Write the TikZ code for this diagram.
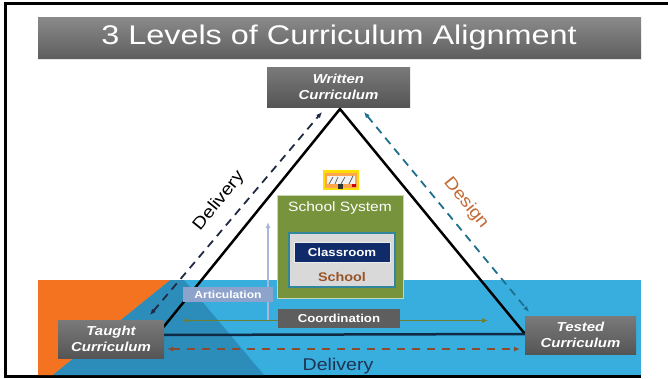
\documentclass[tikz,border=0pt]{standalone}
\usepackage{fontspec}
\setmainfont{Liberation Sans}[FakeStretch=1.15]
\newfontfamily\titlefont{Liberation Sans}[FakeStretch=1.2]
\usetikzlibrary{arrows.meta,calc}

\definecolor{barTop}{HTML}{8A8A8A}
\definecolor{barBot}{HTML}{5E5E5E}
\definecolor{boxTop}{HTML}{7A7A7A}
\definecolor{boxBot}{HTML}{555555}
\definecolor{skyBlue}{HTML}{38AEDF}
\definecolor{deepTeal}{HTML}{2D8DBA}
\definecolor{flame}{HTML}{F47321}
\definecolor{navyLine}{HTML}{0F2A45}
\definecolor{inkNavy}{HTML}{1F2B45}
\definecolor{tealDash}{HTML}{1F6F8F}
\definecolor{rustDash}{HTML}{8C4A2F}
\definecolor{olive}{HTML}{6E7F32}
\definecolor{lavender}{HTML}{A9B8D8}
\definecolor{artFill}{HTML}{8EA3CC}
\definecolor{coordFill}{HTML}{5E5E5E}
\definecolor{sysGreen}{HTML}{77933C}
\definecolor{sysEdge}{HTML}{C9D7B0}
\definecolor{paleGray}{HTML}{D9D9D9}
\definecolor{tealEdge}{HTML}{31859C}
\definecolor{classNavy}{HTML}{102B6A}
\definecolor{schoolBrown}{HTML}{98542A}
\definecolor{designRust}{HTML}{C46A34}
\definecolor{deliveryNavy}{HTML}{1F3350}

\tikzset{
  curbox/.style={top color=boxTop, bottom color=boxBot, text=white,
    font=\fontsize{13}{16}\selectfont\bfseries\itshape, align=center, inner sep=0pt},
  tag/.style={text=white, font=\fontsize{11.5}{13}\selectfont\bfseries, inner sep=0pt},
  tip/.style={-{Latex[length=6pt,width=5pt]}},
  bitip/.style={{Latex[length=6pt,width=5pt]}-{Latex[length=6pt,width=5pt]}},
  sideline/.style={line width=2.5pt, line join=miter},
}

\begin{document}
\begin{tikzpicture}[x=1pt,y=-1pt]
\useasboundingbox (0,0) rectangle (668,378);
\fill[white] (0,0) rectangle (668,378);

% frame lines
\draw[line width=3pt] (668,3) -- (5.5,3) -- (5.5,378);
\draw[line width=3pt] (4,376.5) -- (641,376.5);

% title bar
\node[top color=barTop, bottom color=barBot, minimum width=603pt, minimum height=42pt,
      inner sep=0pt] (title) at (339.5,38) {};
\draw[white!80!gray, line width=1pt] (title.south west) -- (title.south east);
\node[text=white, font=\titlefont\fontsize{27}{30}\selectfont] (titletext) at (339,38)
  {3 Levels of Curriculum Alignment};

% coloured ground
\fill[skyBlue] (38,280) rectangle (641,375);
\fill[deepTeal] (170,280) -- (184,280) -- (264,375) -- (52.5,375) -- cycle;
\fill[flame] (38,280) -- (170,280) -- (52.5,375) -- (38,375) -- cycle;

% triangle
\coordinate (apex) at (340,109);
\coordinate (vl) at (157,335);
\coordinate (vr) at (525,334);
\draw[sideline] (vl) -- (apex) -- (vr);
\draw[navyLine, line width=2.5pt] (vl) -- (vr);

% dashed flows along the sides
\coordinate (dlA) at (150,315);
\coordinate (dlB) at (322,112);
\coordinate (drA) at (364,112);
\coordinate (drB) at (529,312);
\coordinate (dbA) at (167,349);
\coordinate (dbB) at (520,349);
\draw[inkNavy, line width=1.8pt, dash pattern=on 8pt off 6pt, bitip] (dlA) -- (dlB);
\draw[tealDash, line width=1.8pt, dash pattern=on 8pt off 6pt, bitip] (drA) -- (drB);
\draw[rustDash, line width=2.2pt, dash pattern=on 8pt off 7pt, bitip] (dbA) -- (dbB);

% side labels
\node[rotate=51, font=\fontsize{17}{19}\selectfont, text=black] (lblDeliv) at (219,201) {Delivery};
\node[rotate=-51, font=\fontsize{17}{19}\selectfont, text=designRust] (lblDesign) at (466,203) {Design};
\node[anchor=base, font=\fontsize{17}{19}\selectfont, text=deliveryNavy] (lblBottom) at (338,370) {Delivery};

% articulation and coordination arrows
\coordinate (artBase) at (268,320);
\coordinate (artTip) at (268,222);
\draw[lavender, line width=2.2pt, tip] (artBase) -- (artTip);
\coordinate (coA) at (182,320.5);
\coordinate (coB) at (488,320.5);
\draw[olive, line width=1.8pt, bitip] (coA) -- (coB);

\node[fill=artFill, minimum width=90pt, minimum height=15pt, tag,
      font=\fontsize{10.5}{12}\selectfont\bfseries] (artic) at (228,294.5) {Articulation};
\node[fill=coordFill, minimum width=122pt, minimum height=19pt, tag] (coord) at (339,318.5) {Coordination};

% nested system boxes
\node[fill=sysGreen, draw=sysEdge, line width=1pt, minimum width=126pt, minimum height=103pt,
      inner sep=0pt] (sys) at (340,246.5) {};
\node[text=white, font=\fontsize{13.5}{15}\selectfont] (sysText) at (340,208) {School System};
\node[fill=paleGray, draw=tealEdge, line width=1.5pt, minimum width=106pt, minimum height=54pt,
      inner sep=0pt] (schoolBox) at (342,260) {};
\node[fill=classNavy, draw=white!85!gray, line width=0.6pt, minimum width=96pt, minimum height=20pt,
      tag] (classroom) at (342,252) {Classroom};
\node[text=schoolBrown, font=\fontsize{12.5}{14}\selectfont\bfseries, inner sep=0pt] (schoolText) at (342,277) {School};

% small picture above the system box
\node[fill=yellow!80!orange, minimum width=36pt, minimum height=20pt, inner sep=0pt] (pic) at (341,180) {};
\fill[orange!70!white] (325,173) rectangle (357,188);
\fill[white!90!gray] (327,176) rectangle (355,184);
\draw[gray!70!black, line width=0.7pt] (329,184) -- (333,177) (335,184) -- (338,177) (341,184) -- (345,177) (349,184) -- (353,176);
\fill[black!80] (338,184) rectangle (343,189);
\fill[red!80!black] (352,184) rectangle (356,187);

% curriculum boxes
\node[curbox, minimum width=143pt, minimum height=40pt] (written) at (338.5,87) {Written\\Curriculum};
\node[curbox, minimum width=106pt, minimum height=38pt] (taught) at (111,339) {Taught\\Curriculum};
\node[curbox, minimum width=111pt, minimum height=38pt] (tested) at (580.5,335) {Tested\\Curriculum};

\end{tikzpicture}
\end{document}
